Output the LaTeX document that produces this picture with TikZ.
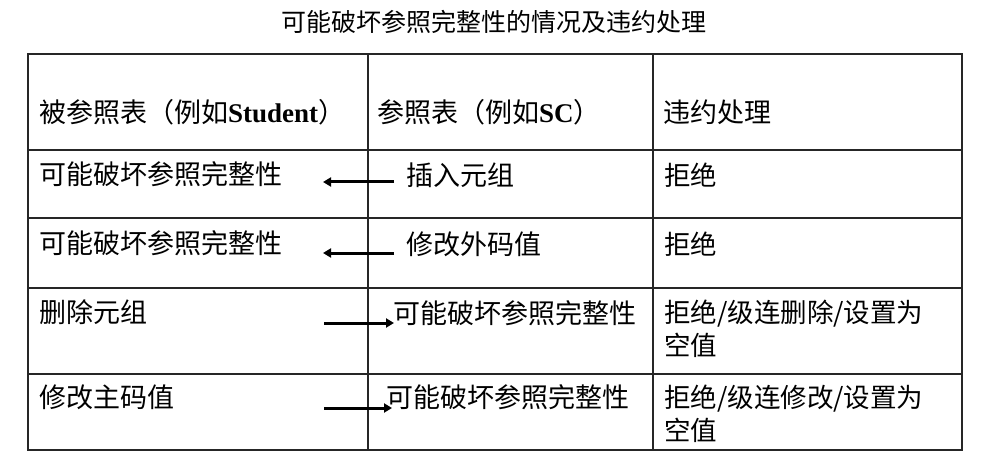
\documentclass[tikz,border=0pt]{standalone}
\usepackage{fontspec}
\setmainfont{Noto Sans CJK SC}
\newfontfamily\tnr{Liberation Serif}
\usetikzlibrary{arrows.meta}
\begin{document}
\begin{tikzpicture}[x=1pt,y=-1pt,
  cell/.style={anchor=west, inner sep=0pt, align=left, font=\fontsize{27}{33}\selectfont},
  cellc/.style={cell, font=\fontsize{26.5}{33}\selectfont},
  gridline/.style={line width=1.6pt, draw=black!85},
  arr/.style={line width=3pt, -{Triangle[length=8pt,width=9pt]}}]
\fill[white] (0,0) rectangle (990,465);
\useasboundingbox (0,0) rectangle (990,465);
% title
\node[inner sep=0pt, font=\fontsize{25}{25}\selectfont] (title) at (494,22) {可能破坏参照完整性的情况及违约处理};
% table frame
\draw[gridline] (28,54) rectangle (962,450);
\foreach \yy in {150,218,288,374} \draw[gridline] (28,\yy) -- (962,\yy);
\draw[gridline] (368,54) -- (368,450);
\draw[gridline] (653,54) -- (653,450);
% header
\node[cell] (h1) at (39,112) {被参照表（例如{\tnr\bfseries Student}）};
\node[cell] (h2) at (377,112) {参照表（例如{\tnr\bfseries SC}）};
\node[cell] (h3) at (663,112) {违约处理};
% row 1
\node[cell] (r1a) at (39,174) {可能破坏参照完整性};
\node[cell] (r1b) at (406,175) {插入元组};
\node[cellc] (r1c) at (664,175) {拒绝};
% row 2
\node[cell] (r2a) at (39,243) {可能破坏参照完整性};
\node[cell] (r2b) at (406,244) {修改外码值};
\node[cellc] (r2c) at (664,244) {拒绝};
% row 3
\node[cell] (r3a) at (39,312) {删除元组};
\node[cell] (r3b) at (393,313) {可能破坏参照完整性};
\node[cellc] (r3c) at (664,328.5) {拒绝/级连删除/设置为\\空值};
% row 4
\node[cell] (r4a) at (39,397) {修改主码值};
\node[cell] (r4b) at (386,397) {可能破坏参照完整性};
\node[cellc] (r4c) at (664,413.5) {拒绝/级连修改/设置为\\空值};
% arrows
\coordinate (a1s) at (394,182); \coordinate (a1e) at (323,182);
\coordinate (a2s) at (394,253); \coordinate (a2e) at (323,253);
\coordinate (a3s) at (324,323); \coordinate (a3e) at (394,323);
\coordinate (a4s) at (324,408); \coordinate (a4e) at (392,408);
\draw[arr] (a1s) -- (a1e);
\draw[arr] (a2s) -- (a2e);
\draw[arr] (a3s) -- (a3e);
\draw[arr] (a4s) -- (a4e);
\end{tikzpicture}
\end{document}
